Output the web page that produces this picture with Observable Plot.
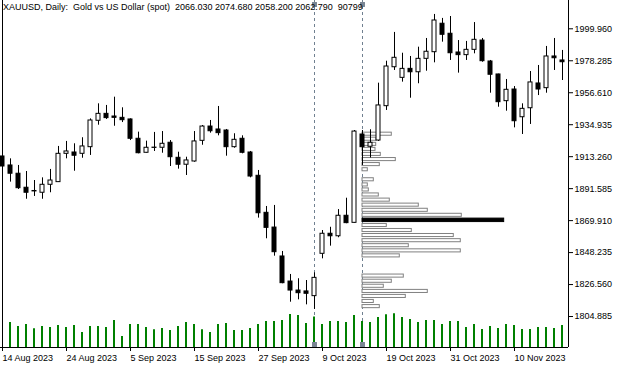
<!DOCTYPE html>
<html><head><meta charset="utf-8">
<script src="https://cdn.jsdelivr.net/npm/d3@7"></script>
<script src="https://cdn.jsdelivr.net/npm/@observablehq/plot@0.6"></script>
<style>
html,body{margin:0;padding:0;background:#fff;}
#wrap{position:relative;width:626px;height:369px;overflow:hidden;background:#fff;}
#wrap svg{position:absolute;left:0;top:0;}
#hdr{position:absolute;left:3px;top:3px;font-family:"Liberation Sans";font-size:9px;line-height:9px;white-space:pre;color:#000;z-index:5;}
</style></head><body>
<div id="wrap"><div id="hdr"></div></div>
<script>
const header = "XAUUSD, Daily:  Gold vs US Dollar (spot)  2066.030 2074.680 2058.200 2062.790  90799";
const opens  = [1913.4,1907.3,1901.7,1892.2,1889.7,1888.8,1894.2,1896.0,1915.2,1916.1,1915.2,1919.7,1937.6,1942.3,1940.5,1939.6,1938.5,1925.4,1915.9,1919.2,1919.3,1922.7,1912.5,1907.8,1910.0,1924.0,1933.7,1931.7,1931.0,1919.7,1925.4,1916.1,1900.3,1875.2,1865.2,1845.6,1828.6,1822.5,1821.9,1818.7,1847.4,1861.0,1859.3,1873.2,1868.4,1928.3,1920.0,1924.2,1947.5,1973.9,1966.7,1972.8,1970.5,1979.6,1984.1,2003.4,1996.6,1983.9,1982.1,1985.7,1992.0,1977.8,1969.0,1950.9,1958.8,1940.0,1946.1,1962.9,1959.7,1981.2,1978.5];
const highs  = [1916.1,1911.8,1907.3,1903.2,1897.1,1898.9,1904.6,1920.2,1923.6,1922.0,1926.1,1938.9,1949.1,1948.0,1953.6,1946.4,1938.9,1929.9,1923.8,1929.7,1930.3,1924.2,1916.3,1912.9,1930.3,1934.4,1937.8,1947.3,1931.7,1928.8,1927.4,1916.8,1903.9,1879.5,1880.2,1849.0,1833.4,1830.5,1829.3,1834.5,1863.2,1865.4,1877.4,1885.1,1931.0,1931.0,1931.5,1963.1,1978.0,1997.5,1983.4,1981.2,1987.5,1993.4,2009.7,2007.0,2008.3,1992.0,1991.4,2004.2,1993.4,1978.5,1969.2,1965.6,1960.8,1949.1,1971.0,1975.1,1988.0,1993.4,1985.3];
const lows   = [1905.3,1896.0,1891.0,1884.4,1886.3,1884.4,1888.8,1895.8,1911.8,1903.4,1912.2,1914.1,1934.6,1938.5,1933.9,1936.4,1924.2,1915.2,1915.7,1916.8,1915.6,1906.6,1904.8,1900.5,1909.5,1921.0,1929.2,1927.4,1913.6,1919.0,1915.2,1898.9,1871.6,1857.6,1845.8,1827.1,1814.6,1816.2,1812.8,1809.7,1844.0,1852.6,1858.3,1867.8,1868.2,1907.3,1912.4,1923.6,1944.6,1971.7,1963.8,1952.9,1962.7,1971.2,1976.9,1990.9,1978.5,1969.9,1978.5,1983.0,1977.3,1956.3,1946.8,1944.1,1932.8,1928.3,1935.1,1954.7,1956.3,1971.7,1964.9];
const closes = [1906.6,1901.7,1891.9,1888.8,1890.0,1894.2,1897.1,1915.2,1916.8,1913.9,1920.2,1937.8,1942.3,1939.4,1939.6,1938.0,1925.4,1915.6,1919.3,1919.4,1922.0,1912.9,1907.8,1910.7,1923.6,1933.7,1930.5,1929.2,1919.7,1924.7,1915.9,1899.8,1874.9,1865.0,1848.5,1827.5,1822.5,1820.7,1820.3,1831.1,1861.0,1859.3,1873.2,1868.2,1930.3,1919.7,1922.7,1948.0,1974.4,1980.3,1972.8,1970.5,1979.6,1984.4,2005.6,1995.9,1983.4,1982.1,1985.7,1992.5,1978.0,1968.8,1950.2,1958.6,1937.3,1945.7,1963.6,1958.8,1981.2,1980.0,1977.3];
const volumes = [null,67500,56700,62100,50500,56700,54000,59400,54000,59400,40500,56700,56700,54000,72900,29700,62100,62100,54000,47800,51300,45900,56700,67500,62100,47800,40500,62100,64800,45900,45900,51300,62100,70200,70200,72900,89100,86400,64800,82100,62100,70200,70200,67500,86400,70200,67500,81000,88300,91000,81000,75600,67500,72900,72900,62100,70200,70200,54000,62100,48600,56700,51300,62100,59400,48600,48600,54000,54000,51300,59400];
const xTickIdx = [0,8,16,24,32,40,48,56,64];
const dateLabels = ["14 Aug 2023","24 Aug 2023","5 Sep 2023","15 Sep 2023","27 Sep 2023","9 Oct 2023","19 Oct 2023","31 Oct 2023","10 Nov 2023"];
const yTicks = [1999.960,1978.285,1956.610,1934.935,1913.260,1891.585,1869.910,1848.235,1826.560,1804.885];
const rangeLines = [39, 45];
const profileLevels = [1928.5,1925.1,1921.6,1918.2,1914.8,1911.3,1907.9,1904.4,1901.0,1897.6,1894.1,1890.7,1887.3,1883.8,1880.4,1876.9,1873.5,1870.1,1866.6,1863.2,1859.8,1856.3,1852.9,1849.4,1846.0,1842.6,1839.1,1835.7,1832.3,1828.8,1825.4,1821.9,1818.5,1815.1,1811.6];
const profileVolumes = [293,140,137,130,183,333,173,53,0,113,53,63,163,273,563,653,993,1417,243,493,913,983,463,983,373,0,0,0,413,293,213,653,433,113,173];

document.getElementById("hdr").textContent = header;

const W = 626, H = 369, mR = 58, mB = 22;
const xDomain = [-0.25, 70.75];
const yDomain = [1783.88, 2019.15];
const bodyHalf = 0.25, binHalf = 1.72, profileMaxBars = 17.71;
const font = {fontFamily: "Liberation Sans", fontSize: "9px", color: "black"};

const candles = opens.map((o, i) => ({i, open: o, high: highs[i], low: lows[i], close: closes[i]}));
const ups = candles.filter(d => d.close >= d.open);
const downs = candles.filter(d => d.close < d.open);
const vmax = d3.max(profileVolumes);
const profile = profileLevels.map((p, k) => ({p, v: profileVolumes[k]}));
const labelOf = new Map(xTickIdx.map((t, k) => [t, dateLabels[k]]));

const main = Plot.plot({
  width: W, height: H, marginLeft: 0, marginRight: mR, marginTop: 0, marginBottom: mB,
  style: {...font, background: "white"},
  x: {domain: xDomain},
  y: {domain: yDomain},
  marks: [
    Plot.ruleX(rangeLines, {stroke: "#708090", strokeDasharray: "3,3"}),
    Plot.rect(profile.filter(d => d.v < vmax), {
      x1: rangeLines[1], x2: d => rangeLines[1] + d.v / vmax * profileMaxBars,
      y1: d => d.p - binHalf, y2: d => d.p + binHalf, insetTop: 1, insetBottom: 1,
      fill: "white", stroke: "#808080"}),
    Plot.rect(profile.filter(d => d.v === vmax), {
      x1: rangeLines[1], x2: d => rangeLines[1] + d.v / vmax * profileMaxBars,
      y1: d => d.p - binHalf, y2: d => d.p + binHalf, insetTop: 0.8, insetBottom: 0.8,
      fill: "black", stroke: "black"}),
    Plot.ruleX(candles, {x: "i", y1: "low", y2: "high", stroke: "black"}),
    Plot.rect(ups, {x1: d => d.i - bodyHalf, x2: d => d.i + bodyHalf, y1: "open", y2: "close", fill: "white", stroke: "black"}),
    Plot.rect(downs, {x1: d => d.i - bodyHalf, x2: d => d.i + bodyHalf, y1: "close", y2: "open", fill: "black", stroke: "black"}),
    Plot.ruleX([xDomain[0] + 0.25], {stroke: "black"}),
    Plot.ruleX([xDomain[1]], {stroke: "black"}),
    Plot.ruleY([yDomain[0]], {stroke: "black"}),
    Plot.axisY({anchor: "right", ticks: yTicks, tickFormat: d => d.toFixed(3), tickSize: 4, tickPadding: 2, label: null}),
    Plot.axisX({ticks: xTickIdx, tickFormat: t => labelOf.get(t), tickSize: 4, tickPadding: 3, textAnchor: "start", label: null})
  ]
});

const vol = Plot.plot({
  width: W, height: H, marginLeft: 0, marginRight: mR, marginTop: 309.96, marginBottom: mB,
  style: {...font, background: "transparent"},
  x: {domain: xDomain, axis: null},
  y: {domain: [0, 100000], axis: null},
  marks: [
    Plot.ruleX(candles.filter((d, i) => volumes[i] != null), {x: "i", y1: 0, y2: d => volumes[d.i], stroke: "#008000", strokeWidth: 2, dx: -0.5}),
  ]
});

const marks = Plot.plot({
  width: W, height: H, marginLeft: 0, marginRight: mR, marginTop: 0, marginBottom: mB,
  style: {...font, background: "transparent"},
  x: {domain: xDomain, axis: null},
  y: {domain: yDomain, axis: null},
  marks: [
    Plot.dot(rangeLines, {x: d => d, frameAnchor: "top", dy: 4, symbol: "square", r: 2.8, fill: "#7a8694", stroke: "none"}),
    Plot.dot(rangeLines, {x: d => d, frameAnchor: "bottom", dy: -3, symbol: "square", r: 2.8, fill: "#7a8694", stroke: "none"})
  ]
});

const wrap = document.getElementById("wrap");
wrap.insertBefore(marks, wrap.firstChild);
wrap.insertBefore(vol, wrap.firstChild);
wrap.insertBefore(main, wrap.firstChild);
</script>
</body></html>
